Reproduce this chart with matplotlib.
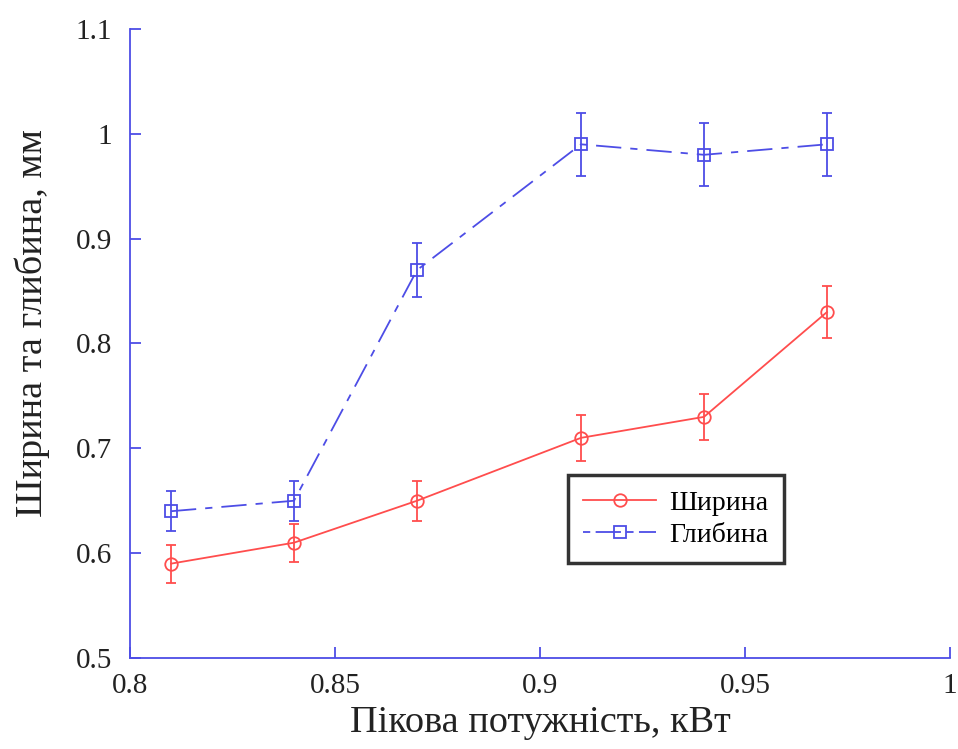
import matplotlib
matplotlib.use("Agg")
import matplotlib.pyplot as plt
from matplotlib.lines import Line2D
from matplotlib.ticker import FuncFormatter

power = [0.81, 0.84, 0.87, 0.91, 0.94, 0.97]
width = [0.59, 0.61, 0.65, 0.71, 0.73, 0.83]
width_err = [0.018, 0.018, 0.019, 0.022, 0.022, 0.025]
depth = [0.64, 0.65, 0.87, 0.99, 0.98, 0.99]
depth_err = [0.019, 0.019, 0.026, 0.03, 0.03, 0.03]

x_ticks = [0.8, 0.85, 0.9, 0.95, 1.0]
y_ticks = [0.5, 0.6, 0.7, 0.8, 0.9, 1.0, 1.1]

red = "#ff4d4d"
blue = "#4d4de6"
dash_dot = (14, 5, 4, 5)

plt.rcParams["font.family"] = ["Liberation Serif", "DejaVu Serif"]

fig = plt.figure(figsize=(9.58, 7.49), dpi=100)
ax = fig.add_axes([0.1357, 0.1215, 0.8559, 0.8398])

ax.errorbar(power, width, yerr=width_err, color=red, lw=1.3, marker="o",
            ms=9, mfc="none", mew=1.3, capsize=3.6, elinewidth=1.3)
ax.errorbar(power, depth, yerr=depth_err, color=blue, lw=1.3, marker="s",
            ms=8.5, mfc="none", mew=1.3, capsize=3.6, elinewidth=1.3,
            dashes=dash_dot)

ax.set_xlim(0.8, 1.0)
ax.set_ylim(0.5, 1.1)
ax.set_xticks(x_ticks)
ax.set_yticks(y_ticks)
fmt = FuncFormatter(lambda v, p: "%g" % round(v, 3))
ax.xaxis.set_major_formatter(fmt)
ax.yaxis.set_major_formatter(fmt)

for s in ["top", "right"]:
    ax.spines[s].set_visible(False)
for s in ["left", "bottom"]:
    ax.spines[s].set_color(blue)
    ax.spines[s].set_linewidth(1.3)
ax.tick_params(direction="in", length=8, width=1.3, color=blue,
               labelsize=21, labelcolor="#222222")
ax.tick_params(axis="y", pad=13)
ax.tick_params(axis="x", pad=11)

ax.set_xlabel("Пікова потужність, кВт", fontsize=27.5, color="#222222")
ax.set_ylabel("Ширина та глибина, мм", fontsize=27.5, color="#222222")
ax.xaxis.set_label_coords(0.5, -0.075)
ax.yaxis.set_label_coords(-0.097, 0.533)

handles = [
    Line2D([], [], color=red, lw=1.3, marker="o", ms=9, mfc="none", mew=1.3),
    Line2D([], [], color=blue, lw=1.3, marker="s", ms=8.5, mfc="none", mew=1.3,
           dashes=(4, 3, 14, 3)),
]
leg = ax.legend(handles, ["Ширина", "Глибина"], loc="center",
                bbox_to_anchor=(0.666, 0.221), fontsize=20, frameon=True,
                fancybox=False, handlelength=2.6, handletextpad=0.5,
                borderpad=0.55, labelspacing=0.25)
leg.get_frame().set_edgecolor("black")
leg.get_frame().set_linewidth(2.5)

fig.savefig("out.png", dpi=100)
